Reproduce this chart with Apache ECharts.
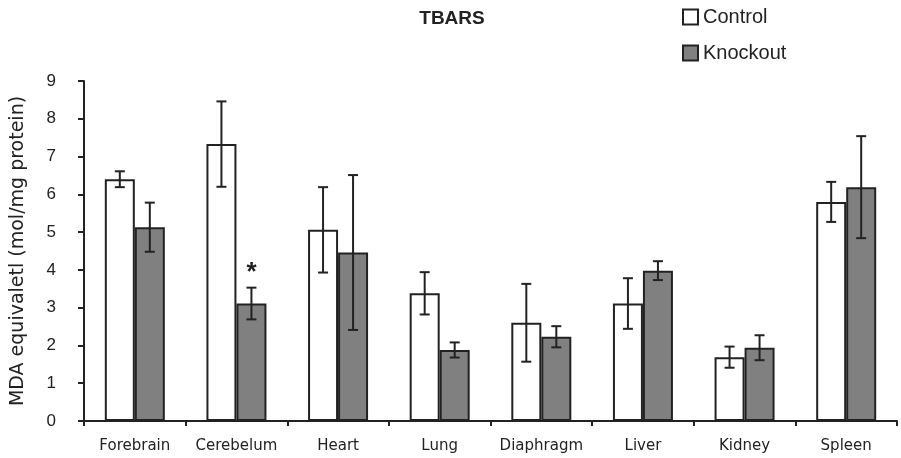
<!DOCTYPE html>
<html>
<head>
<meta charset="utf-8">
<script src="https://cdn.jsdelivr.net/npm/echarts@6/dist/echarts.min.js"></script>
<style>
    html, body { margin: 0; padding: 0; background: #fff; }
    #chart { width: 901px; height: 458px; }
</style>
</head>
<body>
<div id="chart"></div>
<script>
// 组织类别
const categories = ['Forebrain', 'Cerebelum', 'Heart', 'Lung', 'Diaphragm', 'Liver', 'Kidney', 'Spleen'];
// 对照组 均值 / 误差
const controlValues = [6.4, 7.33, 5.06, 3.38, 2.6, 3.11, 1.69, 5.8];
const controlErrors = [0.21, 1.13, 1.13, 0.56, 1.03, 0.67, 0.28, 0.53];
// 敲除组 均值 / 误差
const knockoutValues = [5.13, 3.11, 4.46, 1.88, 2.23, 3.98, 1.94, 6.19];
const knockoutErrors = [0.65, 0.42, 2.05, 0.2, 0.28, 0.25, 0.33, 1.35];
// 显著性标记
const knockoutMarks = ['', '*', '', '', '', '', '', ''];
const yTicks = [0, 1, 2, 3, 4, 5, 6, 7, 8, 9];

const FONT = 'Liberation Sans';
const BAR_W = 30;

// 误差线数据: [类别索引, 均值, 误差, 偏移, 标记]
function errorData(values, errors, offset, marks) {
    return values.map((v, i) => [i, v, errors[i], offset, marks ? marks[i] : '']);
}

function renderError(params, api) {
    const idx = api.value(0);
    const mean = api.value(1);
    const err = api.value(2);
    const off = api.value(3);
    const mark = api.value(4);
    const hi = api.coord([idx, mean + err]);
    const lo = api.coord([idx, mean - err]);
    const x = hi[0] + off;
    const cap = 5;
    const style = { stroke: '#222', lineWidth: 2 };
    const children = [
        { type: 'line', shape: { x1: x, y1: hi[1], x2: x, y2: lo[1] }, style: style },
        { type: 'line', shape: { x1: x - cap, y1: hi[1], x2: x + cap, y2: hi[1] }, style: style },
        { type: 'line', shape: { x1: x - cap, y1: lo[1], x2: x + cap, y2: lo[1] }, style: style }
    ];
    if (mark) {
        children.push({
            type: 'text',
            style: {
                text: mark, x: x, y: hi[1] - 2,
                align: 'center', verticalAlign: 'bottom',
                font: 'bold 26px ' + FONT, fill: '#222'
            }
        });
    }
    return { type: 'group', children: children };
}

const chart = echarts.init(document.getElementById('chart'));
chart.setOption({
    animation: false,
    backgroundColor: '#fff',
    title: {
        text: 'TBARS',
        left: 447,
        textAlign: 'center',
        top: 4,
        textStyle: { fontFamily: FONT, fontSize: 19, fontWeight: 'bold', color: '#222' }
    },
    legend: {
        orient: 'vertical',
        left: 677,
        top: 2,
        itemWidth: 15,
        itemHeight: 15,
        itemGap: 16,
        icon: 'rect',
        data: ['Control', 'Knockout'],
        textStyle: { fontFamily: FONT, fontSize: 20, color: '#222' }
    },
    grid: { left: 84, right: 4, top: 81, bottom: 37, outerBoundsMode: 'none' },
    xAxis: {
        type: 'category',
        data: categories,
        axisLine: { lineStyle: { color: '#222', width: 2 } },
        axisTick: { show: true, length: 5, lineStyle: { color: '#222', width: 2 } },
        axisLabel: { interval: 0, fontFamily: 'DejaVu Sans', fontSize: 15, color: '#222', margin: 18 }
    },
    yAxis: {
        type: 'value',
        min: 0,
        max: 9,
        interval: 1,
        name: 'MDA equivaletl (mol/mg protein)',
        nameLocation: 'middle',
        nameGap: 56,
        nameTextStyle: { fontFamily: 'DejaVu Sans', fontSize: 19, color: '#222' },
        axisLine: { show: true, lineStyle: { color: '#222', width: 2 } },
        axisTick: { show: true, length: 6, lineStyle: { color: '#222', width: 2 } },
        axisLabel: {
            fontFamily: FONT, fontSize: 17, color: '#222', margin: 28,
            formatter: v => yTicks.includes(v) ? String(v) : ''
        },
        splitLine: { show: false }
    },
    series: [
        {
            name: 'Control',
            type: 'bar',
            data: controlValues,
            barWidth: BAR_W,
            barGap: '0%',
            itemStyle: { color: '#fff', borderColor: '#222', borderWidth: 2 }
        },
        {
            name: 'Knockout',
            type: 'bar',
            data: knockoutValues,
            barWidth: BAR_W,
            itemStyle: { color: '#808080', borderColor: '#222', borderWidth: 2 }
        },
        {
            type: 'custom',
            renderItem: renderError,
            data: errorData(controlValues, controlErrors, -BAR_W / 2),
            z: 5
        },
        {
            type: 'custom',
            renderItem: renderError,
            data: errorData(knockoutValues, knockoutErrors, BAR_W / 2, knockoutMarks),
            z: 5
        }
    ]
});
</script>
</body>
</html>
